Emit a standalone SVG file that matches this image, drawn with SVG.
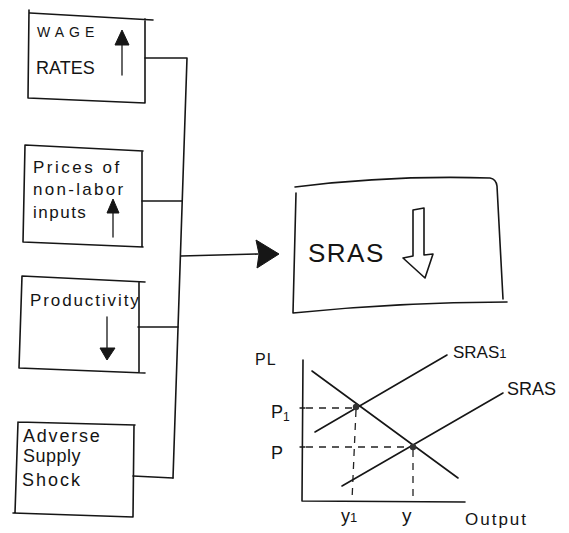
<svg xmlns="http://www.w3.org/2000/svg" width="569" height="533" viewBox="0 0 569 533">
<style>
.ln{fill:none;stroke:#161616;stroke-width:1.6;stroke-linecap:round;stroke-linejoin:round}
.th{fill:none;stroke:#161616;stroke-width:1.3;stroke-linecap:round}
.dash{fill:none;stroke:#222;stroke-width:1.3;stroke-dasharray:7 6}
.fill{fill:#161616;stroke:#161616;stroke-width:1}
.t{font-family:"Liberation Sans",Arial,sans-serif;fill:#141414}
</style>
<rect width="569" height="533" fill="#fff"/>
<g id="connectors">
<path class="ln" d="M145,58 L187,58 L173,478"/>
<path class="ln" d="M142,201 L182,201"/>
<path class="ln" d="M138,327 L178,327"/>
<path class="ln" d="M133,476 L173,478"/>
<path class="ln" d="M181,256 L258,254"/>
<polygon class="fill" points="256,240 279,254 257,268 259,254"/>
</g>
<g id="wage-rates">
<path class="ln" d="M30,13 L153,20 M145,19 L145,103 M28,98 L145,103 M29,10 L28,98"/>
<text class="t" x="37" y="37" font-size="14" letter-spacing="5">WAGE</text>
<text class="t" x="36" y="74" font-size="18">RATES</text>
<path class="th" d="M122,75 L122,40"/>
<polygon class="fill" points="122,30 129,45 115,45"/>
</g>
<g id="prices-non-labor">
<path class="ln" d="M25,145 L143,151 M142,151 L142,247 M23,242 L143,247 M25,145 L23,242"/>
<text class="t" x="33" y="173" font-size="17" letter-spacing="2.5">Prices of</text>
<text class="t" x="33" y="195" font-size="17" letter-spacing="2.3">non-labor</text>
<text class="t" x="33" y="218" font-size="17" letter-spacing="1.5">inputs</text>
<path class="th" d="M113,237 L113,208"/>
<polygon class="fill" points="113,199 119,213 107,213"/>
</g>
<g id="productivity">
<path class="ln" d="M22,276 L145,282 M139,282 L139,372 M19,368 L145,373 M22,276 L19,368"/>
<text class="t" x="30" y="306" font-size="17" letter-spacing="1.9">Productivity</text>
<path class="th" d="M107,317 L107,350"/>
<polygon class="fill" points="107,360 100,348 115,348"/>
</g>
<g id="adverse-supply-shock">
<path class="ln" d="M18,422 L135,425 M134,425 L133,517 M13,513 L133,517 M18,422 L15,513"/>
<text class="t" x="23" y="442" font-size="18" letter-spacing="1.8">Adverse</text>
<text class="t" x="23" y="462" font-size="18" letter-spacing="0.5">Supply</text>
<text class="t" x="22" y="486" font-size="18" letter-spacing="2">Shock</text>
</g>
<g id="sras-box">
<path class="ln" d="M295,187 Q390,175 490,178 Q496,179 497,186 L503,299 M293,313 Q400,302 507,302 M296,193 L293,313"/>
<text class="t" x="308" y="262" font-size="26" letter-spacing="1.5">SRAS</text>
<polygon class="ln" points="413,210 424,208 424,255 433,254 425,278 403,258 413,256"/>
</g>
<g id="graph">
<path class="ln" d="M303,360 L302,501 L465,502"/>
<path class="th" d="M300,408 L305,408 M300,447 L305,447"/>
<path class="dash" d="M306,408 L354,408"/>
<path class="dash" d="M306,447 L411,447"/>
<path class="dash" d="M356,410 L352,500"/>
<path class="dash" d="M413,450 L413,500"/>
<path class="ln" d="M312,371 L458,478"/>
<path class="ln" d="M315,432 L447,355"/>
<path class="ln" d="M342,486 L503,393"/>
<circle cx="356" cy="407" r="3.2" fill="#333"/>
<circle cx="413" cy="447" r="3.2" fill="#333"/>
<text class="t" x="255" y="365" font-size="16" letter-spacing="1">PL</text>
<text class="t" x="271" y="418" font-size="18">P<tspan font-size="12" dy="3">1</tspan></text>
<text class="t" x="271" y="459" font-size="18">P</text>
<text class="t" x="453" y="358" font-size="17">SRAS<tspan font-size="13">1</tspan></text>
<text class="t" x="507" y="395" font-size="18">SRAS</text>
<text class="t" x="341" y="522" font-size="18">y<tspan font-size="13">1</tspan></text>
<text class="t" x="402" y="522" font-size="19">y</text>
<text class="t" x="465" y="525" font-size="17" letter-spacing="2">Output</text>
</g>
</svg>
